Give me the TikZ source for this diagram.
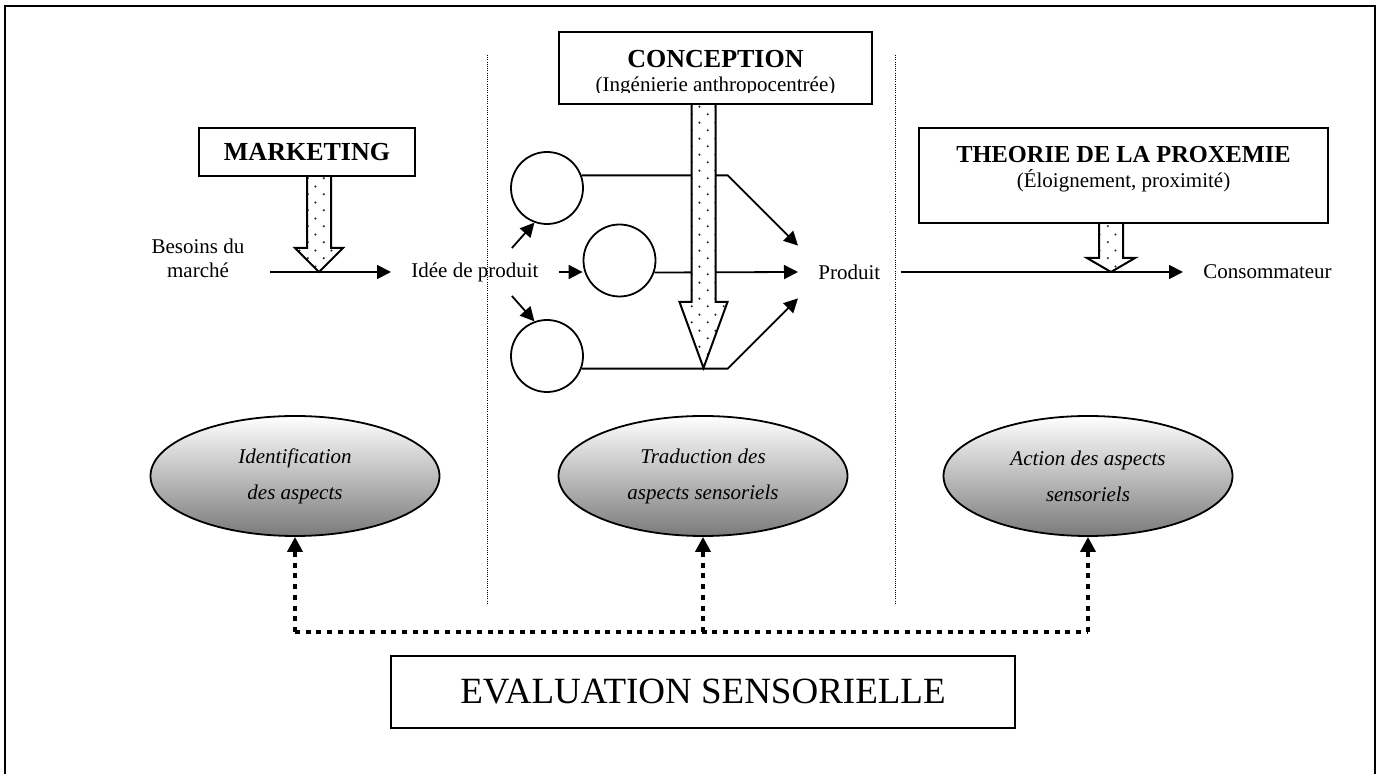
\documentclass[tikz,border=0pt]{standalone}
\usepackage{fontspec}
\setmainfont{Liberation Serif}
\usetikzlibrary{arrows.meta, positioning, shapes.geometric, calc, patterns}

% sparse dots for the broad arrows
\pgfdeclarepatternformonly{sparse dots}{\pgfqpoint{0pt}{0pt}}{\pgfqpoint{8pt}{8pt}}{\pgfqpoint{8pt}{8pt}}{%
  \pgfpathcircle{\pgfqpoint{2pt}{2pt}}{0.6pt}%
  \pgfpathcircle{\pgfqpoint{6pt}{6pt}}{0.6pt}%
  \pgfusepath{fill}}

% broad arrow: x, top, base of head, tip
\newcommand{\fatarrow}[4]{%
  \draw[fat] (#1-12,#2) -- (#1-12,#3) -- (#1-24,#3) -- (#1,#4)
    -- (#1+24,#3) -- (#1+12,#3) -- (#1+12,#2);}

\begin{document}
\begin{tikzpicture}[x=0.5pt, y=-0.5pt,
    txt/.style={font=\fontsize{10.5}{12}\selectfont, inner sep=0pt},
    title/.style={font=\fontsize{13}{15}\selectfont\bfseries, inner sep=0pt},
    box/.style={draw, line width=1pt, fill=white},
    bubble/.style={circle, draw, line width=0.9pt, minimum size=36pt, inner sep=0pt},
    phase/.style={ellipse, draw, line width=0.9pt, top color=white, bottom color=black!52,
                  minimum width=144.5pt, minimum height=60pt, inner sep=0pt, align=center,
                  font=\fontsize{10.5}{18}\selectfont\itshape},
    arr/.style={-{Triangle[length=7pt, width=7pt]}, line width=0.9pt},
    fb/.style={line width=2pt, dash pattern=on 2.5pt off 2.85pt},
    fbarr/.style={fb, -{Triangle[length=7.5pt, width=7.5pt]}},
    fat/.style={line width=1pt, preaction={fill=white}, pattern=sparse dots, pattern color=black!85},
    sep/.style={line width=0.5pt, dash pattern=on 0.5pt off 0.6pt},
    frame/.style={line width=1pt},
  ]
    \useasboundingbox (0,0) rectangle (1383,774);

    % Frame (open at the bottom)
    \draw[frame] (5,774) -- (5,6) -- (1375,6) -- (1375,774);

    % Separators
    \draw[sep] (487,55) -- (487,605);
    \draw[sep] (895,55) -- (895,605);

    % Flow texts
    \node[txt, align=center, inner xsep=12.5pt] (besoins) at (198,258) {Besoins du\\marché};
    \node[txt, anchor=west, inner xsep=10pt] (idee) at (391,272) {Idée de produit};
    \node[txt, anchor=west, inner xsep=10pt, minimum height=26pt] (prod) at (798,272) {Produit};
    \node[txt, anchor=west, inner xsep=10pt] (cons) at (1183,272) {Consommateur};

    % Circles
    \node[bubble] (c1) at (547,188) {};
    \node[bubble] (c2) at (619.5,260.5) {};
    \node[bubble] (c3) at (547,356) {};

    % Flow arrows
    \draw[arr] (besoins.east |- idee.west) -- (idee.west);
    \draw[arr] ([shift={(-23.5pt,12pt)}]idee.east) -- (c1.250);
    \draw[arr] (idee.east) -- (c2.west |- idee.east);
    \draw[arr] ([shift={(-23.5pt,-12pt)}]idee.east) -- (c3.110);
    \draw[arr] (c1.20) -- ++(146,0) -- (prod.north west);
    \draw[arr] (c2.-19) -- (prod.west);
    \draw[arr] (c3.-20) -- ++(146,0) -- (prod.south west);
    \draw[arr] (prod.east) -- (cons.west);

    % Broad arrows
    \fatarrow{319}{176}{248}{272}
    \fatarrow{703.5}{104}{302}{368}
    \fatarrow{1111}{223}{258}{272}

    % Boxes
    \node[box, title, minimum width=108pt, minimum height=24pt] (mkt) at (307,152) {MARKETING};

    \node[box, minimum width=156.5pt, minimum height=36pt] (concept) at (715.5,68) {};
    \begin{scope}
      \clip (concept.north west) rectangle ([yshift=6pt]concept.south east);
      \node[title, anchor=base] (concepttitle) at (715.5,68) {CONCEPTION};
      \node[txt, anchor=base] (conceptsub) at (715.5,92) {(Ingénierie anthropocentrée)};
    \end{scope}

    \node[box, minimum width=204.5pt, minimum height=47.5pt] (theorie) at (1123.5,175.5) {};
    \node[title, anchor=base, font=\fontsize{12.2}{14}\selectfont\bfseries] (theotitle)
      at (1123.5,163) {THEORIE DE LA PROXEMIE};
    \node[txt, anchor=base] (theosub) at (1123.5,188) {(Éloignement, proximité)};

    % Sensory aspects
    \node[phase] (ident) at (295,476) {Identification\\des aspects};
    \node[phase] (trad) at (703,476) {Traduction des\\aspects sensoriels};
    \node[phase] (action) at (1088,476) {Action des aspects\\sensoriels};

    % Evaluation
    \node[box, minimum width=312pt, minimum height=36pt, font=\fontsize{18.5}{20}\selectfont]
      (eval) at (703,692) {EVALUATION SENSORIELLE};

    % Feedback
    \coordinate (fbline) at (703,632);
    \draw[fb] (ident.south |- fbline) -- (action.south |- fbline);
    \foreach \ph in {ident, trad, action}
      \draw[fbarr] (\ph.south |- fbline) -- (\ph.south);
\end{tikzpicture}
\end{document}
